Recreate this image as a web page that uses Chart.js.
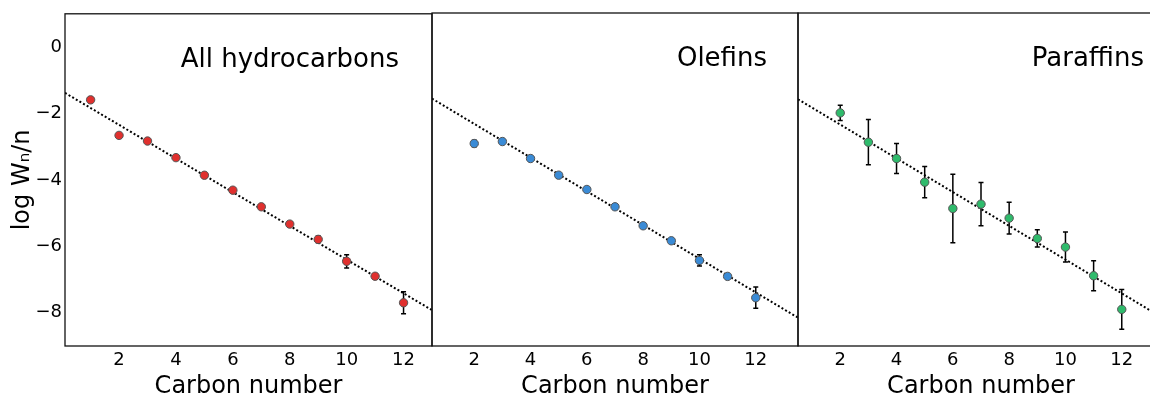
<!DOCTYPE html>
<html>
<head>
<meta charset="utf-8">
<script src="https://cdn.jsdelivr.net/npm/chart.js@4"></script>
<style>
  html, body { margin: 0; padding: 0; background: #fff; overflow: hidden; width: 1150px; height: 399px; }
  #wrap { position: relative; width: 1150px; height: 399px; overflow: hidden; }
  canvas { position: absolute; top: 0; }
</style>
</head>
<body>
<div id="wrap">
  <canvas id="allChart" width="442" height="399" style="left:0px"></canvas>
  <canvas id="olefinChart" width="386" height="399" style="left:422px"></canvas>
  <canvas id="paraffinChart" width="386" height="399" style="left:788px"></canvas>
</div>
<script>
// values
const xTicks = [2, 4, 6, 8, 10, 12];
const yTicks = [0, -2, -4, -6, -8];

const allN   = [1, 2, 3, 4, 5, 6, 7, 8, 9, 10, 11, 12];
const allLog = [-1.59, -2.66, -2.83, -3.33, -3.86, -4.31, -4.81, -5.33, -5.79, -6.45, -6.90, -7.70];
const allErr = [0.08, 0.04, 0.04, 0.04, 0.04, 0.04, 0.04, 0.05, 0.10, 0.20, 0.06, 0.33];
const allFitX = [0.1, 13];
const allFitY = [-1.38, -7.92];

const olefinN   = [2, 3, 4, 5, 6, 7, 8, 9, 10, 11, 12];
const olefinLog = [-2.92, -2.86, -3.37, -3.87, -4.30, -4.82, -5.39, -5.84, -6.43, -6.91, -7.55];
const olefinErr = [0.10, 0.05, 0.04, 0.04, 0.04, 0.04, 0.05, 0.05, 0.17, 0.08, 0.32];
const olefinFitX = [0.5, 13.5];
const olefinFitY = [-1.57, -8.15];

const paraffinN   = [2, 3, 4, 5, 6, 7, 8, 9, 10, 11, 12];
const paraffinLog = [-2.00, -2.88, -3.37, -4.08, -4.87, -4.74, -5.16, -5.77, -6.03, -6.89, -7.90];
const paraffinErr = [0.23, 0.68, 0.45, 0.47, 1.03, 0.65, 0.48, 0.26, 0.45, 0.45, 0.60];
const paraffinFitX = [0.5, 13.5];
const paraffinFitY = [-1.59, -8.18];

const FONT = "'DejaVu Sans', Verdana, sans-serif";

const minus = v => (v < 0 ? '\u2212' + Math.abs(v) : String(v));

// error bars + panel frame + panel name
const panelPlugin = {
    id: 'panelPlugin',
    beforeDatasetsDraw(chart, args, opts) {
        const { ctx, scales: { x, y } } = chart;
        ctx.save();
        ctx.strokeStyle = '#000';
        ctx.lineWidth = 1.5;
        opts.n.forEach((n, i) => {
            const px = x.getPixelForValue(n);
            const top = y.getPixelForValue(opts.vals[i] + opts.err[i]);
            const bot = y.getPixelForValue(opts.vals[i] - opts.err[i]);
            ctx.beginPath();
            ctx.moveTo(px, top); ctx.lineTo(px, bot);
            ctx.moveTo(px - 2.5, top); ctx.lineTo(px + 2.5, top);
            ctx.moveTo(px - 2.5, bot); ctx.lineTo(px + 2.5, bot);
            ctx.stroke();
        });
        ctx.restore();
    },
    afterDraw(chart, args, opts) {
        const { ctx, chartArea: a } = chart;
        ctx.save();
        ctx.strokeStyle = '#111';
        ctx.lineWidth = 1.3;
        ctx.strokeRect(a.left, a.top, a.right - a.left, a.bottom - a.top);
        ctx.fillStyle = '#000';
        ctx.font = '26px ' + FONT;
        ctx.textAlign = 'right';
        ctx.textBaseline = 'alphabetic';
        ctx.fillText(opts.label, a.right - opts.inset, a.top + 53);
        ctx.restore();
    }
};

function makePanel(id, n, vals, err, fitX, fitY, color, label, inset, xMin, xMax, showY) {
    return new Chart(document.getElementById(id), {
        type: 'scatter',
        data: {
            datasets: [
                {
                    data: n.map((v, i) => ({ x: v, y: vals[i] })),
                    backgroundColor: color,
                    borderColor: '#555',
                    pointBorderWidth: 1,
                    pointRadius: 4.2,
                    order: 0
                },
                {
                    data: fitX.map((v, i) => ({ x: v, y: fitY[i] })),
                    showLine: true,
                    pointRadius: 0,
                    borderColor: '#000',
                    borderWidth: 2,
                    borderDash: [2, 2.2],
                    order: 1
                }
            ]
        },
        options: {
            responsive: false,
            animation: false,
            events: [],
            layout: { padding: { top: 13, left: showY ? 0 : 10, right: 10, bottom: 0 } },
            plugins: {
                legend: { display: false },
                tooltip: { enabled: false },
                panelPlugin: { n: n, vals: vals, err: err, label: label, inset: inset }
            },
            scales: {
                x: {
                    type: 'linear',
                    min: xMin,
                    max: xMax,
                    afterBuildTicks: s => { s.ticks = xTicks.map(v => ({ value: v })); },
                    afterFit: s => { s.height = 53; },
                    grid: { display: false, drawTicks: false },
                    border: { display: false },
                    ticks: { color: '#000', padding: 4, font: { family: FONT, size: 18 }, maxRotation: 0 },
                    title: {
                        display: true,
                        text: 'Carbon number',
                        color: '#000',
                        font: { family: FONT, size: 24, lineHeight: 1 },
                        padding: { top: 0, bottom: 0 }
                    }
                },
                y: {
                    type: 'linear',
                    display: showY,
                    min: -9,
                    max: 1,
                    afterBuildTicks: s => { s.ticks = yTicks.map(v => ({ value: v })); },
                    afterFit: s => { s.width = showY ? 65 : 0; },
                    grid: { display: false, drawTicks: false },
                    border: { display: false },
                    ticks: { color: '#000', padding: 3, font: { family: FONT, size: 18 }, callback: minus },
                    title: {
                        display: true,
                        text: 'log W\u2099/n',
                        color: '#000',
                        font: { family: FONT, size: 24, lineHeight: 1 },
                        padding: { top: 11, bottom: 0 }
                    }
                }
            }
        },
        plugins: [panelPlugin]
    });
}

makePanel('allChart', allN, allLog, allErr, allFitX, allFitY, '#e0302e', 'All hydrocarbons', 33, 0.1, 13, true);
makePanel('olefinChart', olefinN, olefinLog, olefinErr, olefinFitX, olefinFitY, '#3a8bd6', 'Olefins', 31, 0.5, 13.5, false);
makePanel('paraffinChart', paraffinN, paraffinLog, paraffinErr, paraffinFitX, paraffinFitY, '#2fbb6c', 'Paraffins', 20, 0.5, 13.5, false);
</script>
</body>
</html>
